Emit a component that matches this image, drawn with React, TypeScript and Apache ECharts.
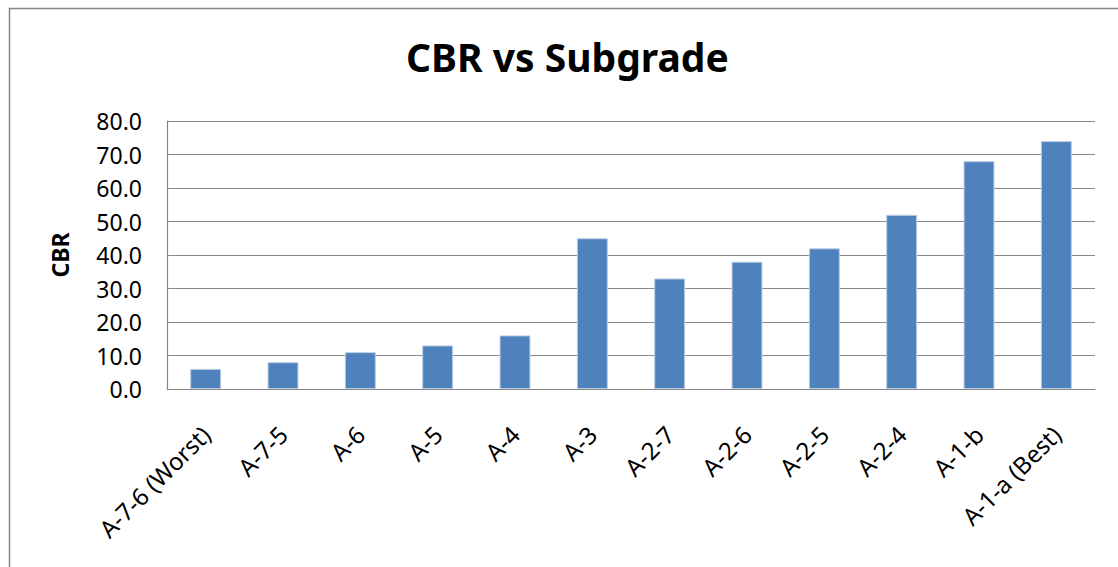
import React, { useEffect, useRef } from "react";
import * as echarts from "echarts";

const categories = [
  "A-7-6 (Worst)",
  "A-7-5",
  "A-6",
  "A-5",
  "A-4",
  "A-3",
  "A-2-7",
  "A-2-6",
  "A-2-5",
  "A-2-4",
  "A-1-b",
  "A-1-a (Best)",
];
const cbrValues = [6, 8, 11, 13, 16, 45, 33, 38, 42, 52, 68, 74];
const yTicks = { min: 0, max: 80, interval: 10 };

const FONT = "Noto Sans";

export default function App() {
  const ref = useRef<HTMLDivElement>(null);
  useEffect(() => {
    if (!ref.current) return;
    const chart = echarts.init(ref.current, null, { renderer: "svg" });
    chart.setOption({
      animation: false,
      backgroundColor: "#ffffff",
      title: {
        text: "CBR vs Subgrade",
        left: 401,
        top: 32,
        textStyle: { fontFamily: FONT, fontWeight: "bold", fontSize: 39, color: "#000" },
      },
      graphic: [
        {
          type: "rect",
          shape: { x: 9.5, y: 8.5, width: 1300, height: 800 },
          style: { fill: "none", stroke: "#858585", lineWidth: 1.5 },
          silent: true,
          z: -1,
        },
      ],
      grid: { left: 167, right: 23, top: 121, bottom: 178, containLabel: false },
      xAxis: {
        type: "category",
        data: categories,
        axisLine: { show: true, lineStyle: { color: "#868686", width: 1.2 } },
        axisTick: { show: false },
        axisLabel: {
          rotate: 45,
          interval: 0,
          margin: 41,
          verticalAlign: "middle",
          fontFamily: FONT,
          fontSize: 24,
          color: "#000",
        },
      },
      yAxis: {
        type: "value",
        min: yTicks.min,
        max: yTicks.max,
        interval: yTicks.interval,
        name: "CBR",
        nameLocation: "middle",
        nameGap: 96,
        nameTextStyle: { fontFamily: FONT, fontWeight: "bold", fontSize: 23, color: "#000" },
        axisLine: { show: true, lineStyle: { color: "#868686", width: 1.2 } },
        axisTick: { show: false },
        axisLabel: {
          margin: 25,
          fontFamily: FONT,
          fontSize: 23,
          color: "#000",
          formatter: (v: number) => v.toFixed(1),
        },
        splitLine: { show: true, lineStyle: { color: "#8a8a8a", width: 1.2 } },
      },
      series: [
        {
          type: "bar",
          data: cbrValues,
          barWidth: "40%",
          itemStyle: { color: "#4F81BD", borderColor: "#B9CDE5", borderWidth: 1 },
        },
      ],
    });
    return () => chart.dispose();
  }, []);
  return (
    <div
      ref={ref}
      style={{ position: "fixed", left: 0, top: 0, width: 1118, height: 567 }}
    />
  );
}
